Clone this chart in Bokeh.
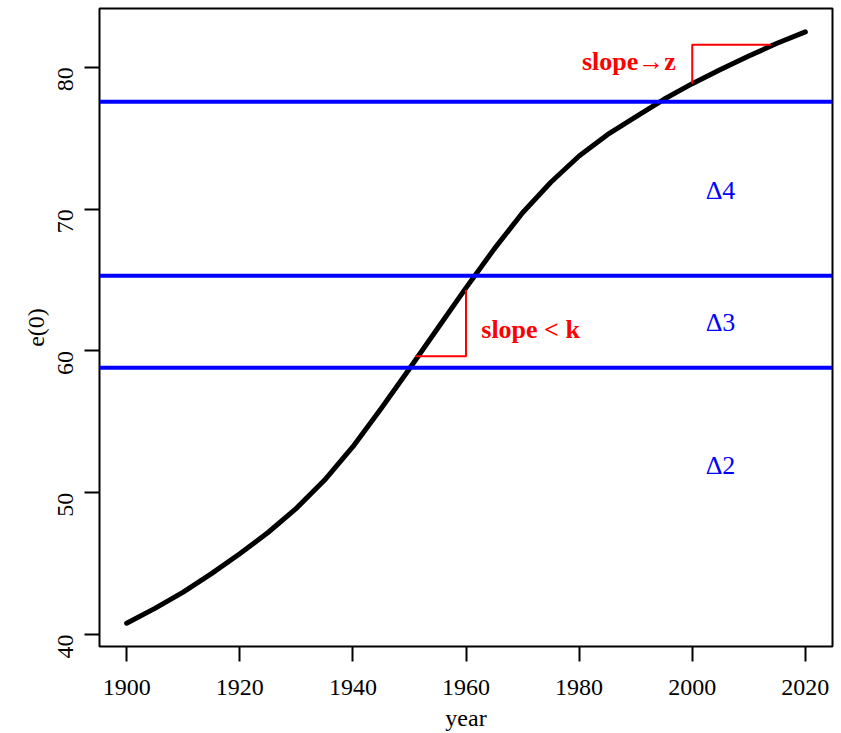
import math
from bokeh.plotting import figure
from bokeh.models import Span, FixedTicker, Range1d
from bokeh.core.properties import value
from bokeh.embed import file_html
from bokeh.resources import INLINE

# --- data -------------------------------------------------------------
years = [1900, 1905, 1910, 1915, 1920, 1925, 1930, 1935, 1940, 1945, 1950,
         1955, 1960, 1965, 1970, 1975, 1980, 1985, 1990, 1995, 2000, 2005,
         2010, 2015, 2020]
e0 = [40.8, 41.85, 43.0, 44.3, 45.7, 47.2, 48.9, 50.9, 53.25, 55.95, 58.75,
      61.6, 64.45, 67.2, 69.75, 71.9, 73.75, 75.25, 76.5, 77.75, 78.85, 79.85,
      80.8, 81.7, 82.5]

thresholds = [58.81, 65.31, 77.57]

# slope markers (red)
slope_k_x = [1951.0, 1960.0, 1960.0]
slope_k_y = [59.63, 59.63, 64.3]
slope_z_x = [2000.0, 2000.0, 2013.9]
slope_z_y = [78.85, 81.59, 81.59]

delta_labels = ["\u03942", "\u03943", "\u03944"]
delta_x = [2005.0, 2005.0, 2005.0]
delta_y = [51.9, 62.0, 71.35]

x_ticks = [1900, 1920, 1940, 1960, 1980, 2000, 2020]
y_ticks = [40, 50, 60, 70, 80]

SERIF = "Liberation Serif"

p = figure(width=841, height=733, output_backend="svg", toolbar_location=None,
           x_range=Range1d(1895.2, 2024.8), y_range=Range1d(39.16, 84.15),
           min_border_left=99, min_border_right=9, min_border_top=8,
           min_border_bottom=83)
p.background_fill_color = "white"
p.border_fill_color = "white"
p.grid.visible = False
p.outline_line_color = "black"
p.outline_line_width = 2

for ax in (p.xaxis[0], p.yaxis[0]):
    ax.axis_line_color = None
    ax.major_tick_line_color = "black"
    ax.major_tick_line_width = 2
    ax.major_tick_out = 15
    ax.major_tick_in = 0
    ax.minor_tick_line_color = None
    ax.major_label_text_font = SERIF
    ax.major_label_text_font_size = "24px"
    ax.major_label_text_color = "black"
    ax.axis_label_text_font = SERIF
    ax.axis_label_text_font_size = "24px"
    ax.axis_label_text_font_style = "normal"
    ax.axis_label_text_color = "black"

p.xaxis.ticker = FixedTicker(ticks=x_ticks)
p.yaxis.ticker = FixedTicker(ticks=y_ticks)
p.xaxis.axis_label = "year"
p.yaxis.axis_label = "e(0)"
p.xaxis.major_label_standoff = 18
p.xaxis.axis_label_standoff = 7
p.yaxis.major_label_standoff = 19
p.yaxis.axis_label_standoff = -1
p.yaxis.major_label_orientation = math.pi / 2

for t in thresholds:
    p.add_layout(Span(location=t, dimension="width", line_color="#0000FF",
                      line_width=4))

p.line(years, e0, line_color="black", line_width=5, line_join="round",
       line_cap="round")

p.line(slope_k_x, slope_k_y, line_color="#FF0000", line_width=2)
p.line(slope_z_x, slope_z_y, line_color="#FF0000", line_width=2)

p.text(x=[1962.7], y=[61.5], text=["slope < k"], text_color="#FF0000",
       text_font=value(SERIF), text_font_size="26px", text_font_style="bold",
       text_align="left", text_baseline="alphabetic")
p.text(x=[1997.1], y=[80.42], text=["slope\u2192z"], text_color="#FF0000",
       text_font=value(SERIF), text_font_size="26px", text_font_style="bold",
       text_align="right", text_baseline="alphabetic")

p.text(x=delta_x, y=delta_y, text=delta_labels, text_color="#0000FF",
       text_font=value(SERIF), text_font_size="26px",
       text_align="center", text_baseline="alphabetic")

open("out.html", "w").write(file_html(p, INLINE))
